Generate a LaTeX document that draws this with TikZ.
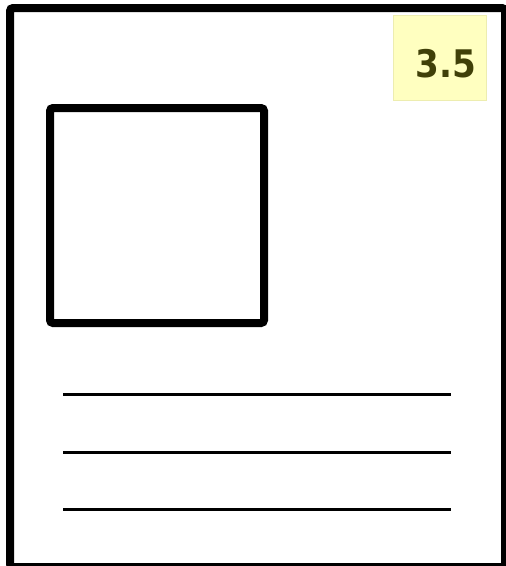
\documentclass[tikz,border=0pt]{standalone}
\usepackage{fontspec}
\newfontfamily\labelfont{DejaVu Sans Condensed}
\definecolor{notefill}{HTML}{FFFFC0}
\definecolor{noteedge}{HTML}{EDEDB0}
\definecolor{notetext}{HTML}{404008}
\begin{document}
\begin{tikzpicture}[x=1pt,y=-1pt,
  frame/.style={draw=black,line width=8pt,rounded corners=3pt},
  textline/.style={draw=black,line width=3pt},
  notebox/.style={draw=noteedge,fill=notefill,line width=0.8pt},
  notelabel/.style={text=notetext,font=\labelfont\bfseries\fontsize{38}{38}\selectfont,inner sep=0pt,anchor=base}]
\useasboundingbox (0,0) rectangle (506,566);
\draw[frame] (10,8) rectangle (505,567);
\draw[notebox] (393,15) rectangle (486,100);
\node[notelabel] (label) at (445.5,77.5) {3.5};
\draw[frame] (50,108) rectangle (264,323);
\coordinate (l1a) at (63,394.5); \coordinate (l1b) at (451,394.5);
\coordinate (l2a) at (63,452.5); \coordinate (l2b) at (451,452.5);
\coordinate (l3a) at (63,509.5); \coordinate (l3b) at (451,509.5);
\draw[textline] (l1a) -- (l1b);
\draw[textline] (l2a) -- (l2b);
\draw[textline] (l3a) -- (l3b);
\end{tikzpicture}
\end{document}
